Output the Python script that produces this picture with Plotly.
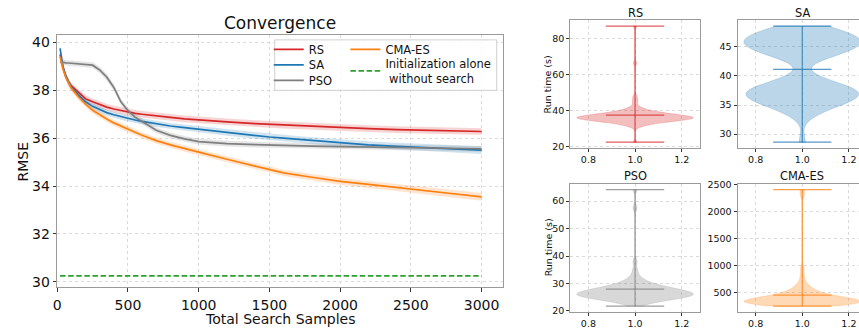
import numpy as np
import plotly.graph_objects as go

# ---------------- Convergence data ----------------
samples = [20, 40, 60, 80, 100, 150, 200, 250, 300, 350, 400, 450, 500, 550, 600, 650,
           700, 800, 900, 1000, 1200, 1400, 1500, 1600, 1800, 2000, 2200, 2400, 2600, 2800, 3000]

rs_mean = [39.50, 38.95, 38.60, 38.35, 38.18, 37.90, 37.65, 37.52, 37.40, 37.30, 37.22, 37.15,
           37.09, 37.04, 37.00, 36.96, 36.93, 36.87, 36.81, 36.76, 36.68, 36.61, 36.58, 36.55,
           36.49, 36.44, 36.40, 36.36, 36.33, 36.30, 36.28]
rs_std = [0.16, 0.15, 0.15, 0.14, 0.14, 0.14, 0.14, 0.14, 0.14, 0.14, 0.14, 0.14, 0.14, 0.14,
          0.14, 0.14, 0.14, 0.14, 0.14, 0.14, 0.14, 0.14, 0.14, 0.14, 0.14, 0.14, 0.14, 0.14,
          0.14, 0.14, 0.14]

sa_mean = [39.75, 39.00, 38.60, 38.32, 38.12, 37.80, 37.52, 37.33, 37.19, 37.07, 36.98, 36.90,
           36.83, 36.76, 36.70, 36.65, 36.60, 36.51, 36.44, 36.37, 36.24, 36.12, 36.05, 36.00,
           35.90, 35.80, 35.72, 35.66, 35.61, 35.56, 35.50]
sa_std = [0.16, 0.15, 0.14, 0.13, 0.13, 0.13, 0.13, 0.13, 0.13, 0.13, 0.13, 0.13, 0.13, 0.13,
          0.13, 0.13, 0.13, 0.13, 0.13, 0.13, 0.14, 0.14, 0.14, 0.14, 0.14, 0.15, 0.15, 0.15,
          0.15, 0.16, 0.16]

pso_mean = [39.20, 39.16, 39.15, 39.14, 39.13, 39.12, 39.10, 39.05, 38.85, 38.55, 38.12, 37.52,
            37.15, 36.88, 36.70, 36.50, 36.33, 36.12, 35.97, 35.86, 35.77, 35.73, 35.71, 35.70,
            35.67, 35.65, 35.63, 35.61, 35.59, 35.58, 35.56]
pso_std = [0.12, 0.12, 0.12, 0.12, 0.12, 0.12, 0.12, 0.12, 0.13, 0.14, 0.14, 0.13, 0.12, 0.12,
           0.12, 0.12, 0.12, 0.12, 0.12, 0.12, 0.12, 0.12, 0.12, 0.12, 0.12, 0.12, 0.12, 0.12,
           0.12, 0.12, 0.12]

cma_mean = [39.40, 38.90, 38.55, 38.28, 38.08, 37.72, 37.42, 37.17, 36.98, 36.80, 36.64, 36.50,
            36.38, 36.25, 36.12, 36.00, 35.90, 35.72, 35.56, 35.42, 35.12, 34.85, 34.70, 34.55,
            34.37, 34.20, 34.07, 33.93, 33.81, 33.68, 33.55]
cma_std = [0.16, 0.15, 0.14, 0.13, 0.13, 0.13, 0.13, 0.13, 0.13, 0.13, 0.13, 0.13, 0.13, 0.13,
           0.13, 0.13, 0.13, 0.13, 0.13, 0.13, 0.13, 0.13, 0.13, 0.13, 0.14, 0.14, 0.14, 0.15,
           0.15, 0.16, 0.16]

init_rmse = 30.25

# ---------------- Run-time samples (value, count) ----------------
rs_time_values = [22.5, 31, 32, 33, 34, 35, 36, 37, 38, 39, 40, 41, 42, 44, 46, 48, 66.5, 87.2]
rs_time_counts = [1, 1, 2, 4, 7, 11, 14, 12, 8, 5, 3, 2, 1, 1, 1, 1, 1, 1]

sa_time_values = [28.6, 33, 34, 35, 36, 37, 38, 39, 40, 43, 44, 45, 46, 47, 48, 48.6]
sa_time_counts = [1, 1, 2, 4, 6, 7, 6, 3, 1, 2, 5, 6, 7, 6, 4, 1]

pso_time_values = [21.8, 23, 24, 25, 26, 27, 28, 29, 30, 31, 32, 33, 35, 38, 57.5, 64.2]
pso_time_counts = [1, 3, 6, 10, 12, 10, 8, 5, 3, 2, 1, 1, 1, 1, 1, 1]

cma_time_values = [250, 270, 300, 330, 360, 390, 420, 450, 490, 530, 580, 640, 720, 820, 950, 2300, 2404]
cma_time_counts = [5, 6, 8, 9, 9, 7, 5, 4, 3, 3, 2, 2, 1, 1, 1, 1, 1]

# ---------------- Style ----------------
W, H = 859, 329
FONT = "DejaVu Sans"
TXT = "#111111"
C_RS, C_SA, C_PSO, C_CMA, C_INIT = "#d62728", "#1f77b4", "#7f7f7f", "#ff7f0e", "#2ca02c"
FRAME = "#9a9a9a"
GRID = "#dadada"


def rgba(hex_color, a):
    h = hex_color.lstrip("#")
    r, g, b = int(h[0:2], 16), int(h[2:4], 16), int(h[4:6], 16)
    return f"rgba({r},{g},{b},{a})"


def pxx(p):
    return p / W


def pxy(p):
    return 1 - p / H


fig = go.Figure()

# ---------------- Convergence panel ----------------
series = [("RS", rs_mean, rs_std, C_RS, "legend"),
          ("SA", sa_mean, sa_std, C_SA, "legend2"),
          ("PSO", pso_mean, pso_std, C_PSO, "legend3"),
          ("CMA-ES", cma_mean, cma_std, C_CMA, "legend4")]

for name, m, s, c, leg in series:
    m = np.array(m)
    s = np.array(s)
    xs = list(samples) + list(samples[::-1])
    ys = list(m + s) + list((m - s)[::-1])
    fig.add_trace(go.Scatter(x=xs, y=ys, fill="toself", fillcolor=rgba(c, 0.2),
                             line=dict(width=0), mode="lines", hoverinfo="skip",
                             showlegend=False, xaxis="x", yaxis="y"))

for name, m, s, c, leg in series:
    fig.add_trace(go.Scatter(x=samples, y=m, mode="lines", name=name,
                             line=dict(color=c, width=1.7), legend=leg,
                             xaxis="x", yaxis="y"))

fig.add_trace(go.Scatter(x=[samples[0], samples[-1]], y=[init_rmse, init_rmse], mode="lines",
                         name="Initialization alone<br> without search",
                         line=dict(color=C_INIT, width=1.7, dash="5.5px,2.6px"),
                         legend="legend5", xaxis="x", yaxis="y"))

# ---------------- Violin panels ----------------
violins = [("RS", rs_time_values, rs_time_counts, C_RS, 1.2, "x2", "y2"),
           ("SA", sa_time_values, sa_time_counts, C_SA, 1.3, "x3", "y3"),
           ("PSO", pso_time_values, pso_time_counts, C_PSO, 1.1, "x4", "y4"),
           ("CMA-ES", cma_time_values, cma_time_counts, C_CMA, 55, "x5", "y5")]

vranges = {}
for name, vals, cnts, c, bw, xa, ya in violins:
    data = np.repeat(np.array(vals, dtype=float), cnts)
    fig.add_trace(go.Violin(y=data, x0=1.0, width=0.5, bandwidth=bw, spanmode="hard",
                            points=False, scalemode="width", fillcolor=rgba(c, 0.3),
                            line=dict(color=rgba(c, 0.3), width=0.6),
                            box_visible=False, meanline_visible=False, showlegend=False,
                            hoverinfo="skip", xaxis=xa, yaxis=ya))
    lo, hi, mu = data.min(), data.max(), data.mean()
    lc = rgba(c, 0.75)
    fig.add_trace(go.Scatter(x=[1.0, 1.0], y=[lo, hi], mode="lines",
                             line=dict(color=lc, width=1.2), showlegend=False,
                             hoverinfo="skip", xaxis=xa, yaxis=ya))
    for yv in (lo, hi, mu):
        fig.add_trace(go.Scatter(x=[0.875, 1.125], y=[yv, yv], mode="lines",
                                 line=dict(color=lc, width=1.2), showlegend=False,
                                 hoverinfo="skip", xaxis=xa, yaxis=ya))
    span = hi - lo
    vranges[ya] = [lo - 0.05 * span, hi + 0.05 * span]

# ---------------- Axes ----------------
base = dict(showline=True, linecolor=FRAME, linewidth=1.1, mirror=True, ticks="outside",
            tickcolor="#333333", showgrid=True, gridcolor=GRID, griddash="dot",
            gridwidth=0.8, zeroline=False, layer="below traces")

main_tick = dict(family=FONT, size=14, color=TXT)
v_tick = dict(family=FONT, size=9.5, color=TXT)

xm = dict(base, domain=[pxx(53.5), pxx(501)], range=[0, 3149],
          tickvals=[0, 500, 1000, 1500, 2000, 2500, 3000],
          ticklen=3.5, ticklabelstandoff=1, tickfont=main_tick, anchor="y")
ym = dict(base, domain=[pxy(291), pxy(30.7)], range=[29.78, 40.32],
          tickvals=[30, 32, 34, 36, 38, 40],
          ticklen=3.5, tickfont=main_tick, anchor="x")

v_left = (569, 699)
v_right = (737, 867)
v_top = (15.7, 147.5)
v_bot = (184.3, 316.5)
xr_full = [0.7225, 1.2775]
ppu = (v_left[1] - v_left[0]) / (xr_full[1] - xr_full[0])
xr_cut = [0.7225, 0.7225 + (W - v_right[0]) / ppu]


def vx(dom, rng, anchor):
    return dict(base, domain=[pxx(dom[0]), min(1.0, pxx(dom[1]))], range=rng,
                tickvals=[0.8, 1.0, 1.2], ticktext=["0.8", "1.0", "1.2"], ticklen=3,
                tickfont=v_tick, anchor=anchor)


def vy(dom, rng, anchor, tickvals, mirror=True):
    return dict(base, domain=[pxy(dom[1]), pxy(dom[0])], range=rng, tickvals=tickvals,
                ticklen=3, tickfont=v_tick, anchor=anchor, mirror=mirror)


fig.update_layout(
    xaxis=xm, yaxis=ym,
    xaxis2=vx(v_left, xr_full, "y2"),
    yaxis2=vy(v_top, vranges["y2"], "x2", [20, 40, 60, 80]),
    xaxis3=vx(v_right, xr_cut, "y3"),
    yaxis3=vy(v_top, vranges["y3"], "x3", [30, 35, 40, 45], mirror=False),
    xaxis4=vx(v_left, xr_full, "y4"),
    yaxis4=vy(v_bot, vranges["y4"], "x4", [20, 30, 40, 50, 60]),
    xaxis5=vx(v_right, xr_cut, "y5"),
    yaxis5=vy(v_bot, vranges["y5"], "x5", [500, 1000, 1500, 2000, 2500], mirror=False),
)

# ---------------- Legend (one plotly legend per entry, laid out in two columns) ----------------
leg_font = dict(family=FONT, size=11.5, color=TXT)


def leg(x_px, y_px):
    return dict(x=pxx(x_px), y=pxy(y_px), xanchor="left", yanchor="middle", font=leg_font,
                bgcolor="rgba(0,0,0,0)", borderwidth=0, tracegroupgap=0, itemwidth=30,
                valign="middle")


fig.update_layout(
    legend=leg(266, 45.7),
    legend2=leg(266, 61.7),
    legend3=leg(266, 77.7),
    legend4=leg(343, 45.7),
    legend5=leg(343, 68),
)
fig.add_shape(type="rect", xref="paper", yref="paper", x0=pxx(272), x1=pxx(495),
              y0=pxy(88), y1=pxy(36), fillcolor="rgba(255,255,255,0.85)",
              line=dict(color="#d0d0d0", width=1), layer="above")

# ---------------- Text ----------------
ann = []


def add_text(text, x, y, size, xref="paper", angle=0):
    ann.append(dict(text=text, x=x, y=y, xref=xref, yref="paper", showarrow=False,
                    xanchor="center", yanchor="middle", textangle=angle,
                    font=dict(family=FONT, size=size, color=TXT)))


add_text("Convergence", pxx(277), pxy(19), 17)
add_text("Total Search Samples", pxx(277.5), pxy(323.5), 14)
add_text("RMSE", pxx(19.5), pxy(161), 14, angle=-90)
add_text("RS", 1.0, pxy(8.5), 11.4, xref="x2")
add_text("SA", 1.0, pxy(8.5), 11.4, xref="x3")
add_text("PSO", 1.0, pxy(176.5), 11.4, xref="x4")
add_text("CMA-ES", 1.0, pxy(176.5), 11.4, xref="x5")
add_text("Run time (s)", pxx(546.5), pxy(82), 9.5, angle=-90)
add_text("Run time (s)", pxx(546.5), pxy(250), 9.5, angle=-90)

fig.update_layout(annotations=ann, width=W, height=H, autosize=False,
                  margin=dict(l=0, r=0, t=0, b=0), paper_bgcolor="white",
                  plot_bgcolor="white", font=dict(family=FONT, color=TXT))

fig.write_html("out.html")
